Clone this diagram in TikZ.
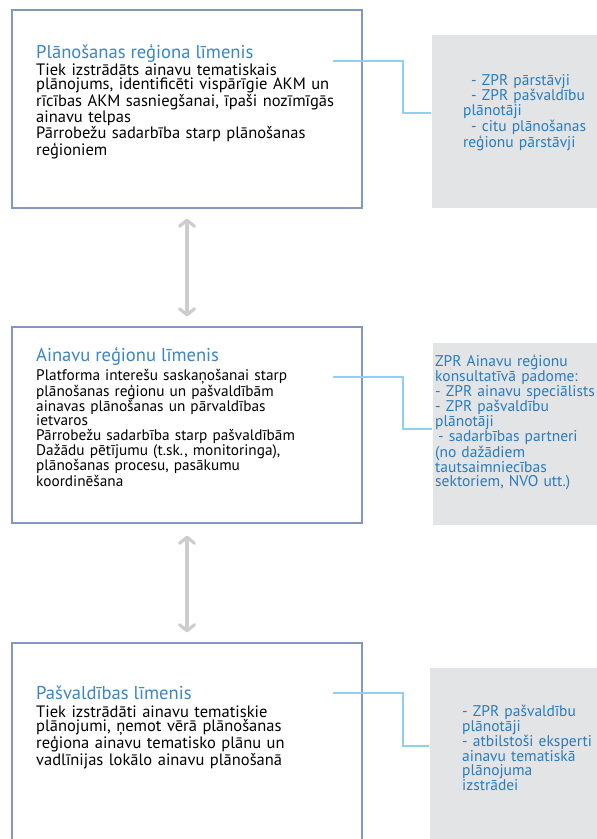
\documentclass[tikz,border=0pt]{standalone}
\usepackage{fontspec}
\setmainfont{PT Sans}
\usetikzlibrary{arrows.meta}
\definecolor{boxline}{HTML}{8497C0}
\definecolor{titleblue}{HTML}{3A86C6}
\definecolor{graybg}{HTML}{E2E4E6}
\definecolor{graytext}{HTML}{2A7BBF}
\definecolor{conn}{HTML}{8FD0EE}
\definecolor{arrowgray}{HTML}{CDCDCD}
\lineskiplimit=-30pt
\tikzset{
  x=1pt, y=-1pt,
  levelbox/.style={draw=boxline, line width=1.3pt, fill=white, inner sep=0pt},
  graybox/.style={fill=graybg, inner sep=0pt},
  titletext/.style={anchor=base west, inner sep=0pt, text=titleblue,
    font=\fontsize{18.6}{18}\selectfont},
  maintext/.style={anchor=base west, inner sep=0pt, align=left, text=black, text width=330pt,
    font=\fontsize{16.5}{14.5}\selectfont},
  sidetext/.style={anchor=base west, inner sep=0pt, align=left, text=graytext, text width=170pt,
    font=\fontsize{15.5}{13.6}\selectfont},
  connector/.style={draw=conn, line width=2.8pt},
  updown/.style={draw=arrowgray, line width=3.2pt,
    {Straight Barb[length=6pt,width=15pt,round]}-{Straight Barb[length=6pt,width=15pt,round]}}
}
\begin{document}
\lineskiplimit=-30pt
\begin{tikzpicture}
\useasboundingbox (0,0) rectangle (597,839);
% gray side boxes
\path[graybox] (432,35) rectangle (600,208);
\node[inner sep=0pt] (g1) at (432,121) {};
\path[graybox] (433,343) rectangle (600,525);
\node[inner sep=0pt] (g2) at (433,434) {};
\path[graybox] (430,668) rectangle (600,845);
\node[inner sep=0pt] (g3) at (430,756) {};
% level boxes
\node[levelbox, minimum width=350pt, minimum height=198pt] (b1) at (187,109) {};
\node[levelbox, minimum width=350pt, minimum height=196pt] (b2) at (187,425) {};
\node[levelbox, minimum width=350pt, minimum height=210pt] (b3) at (187,748) {};
% connectors
\coordinate (c1) at (333,61);
\coordinate (k1) at (403,113);
\coordinate (c2) at (333,377);
\coordinate (k2) at (403,429);
\coordinate (c3) at (333,693);
\coordinate (k3) at (403,746);
\draw[connector] (c1) -| (k1) -- (k1 -| g1.west);
\draw[connector] (c2) -| (k2) -- (k2 -| g2.west);
\draw[connector] (c3) -| (k3) -- (k3 -| g3.west);
% up-down arrows
\draw[updown, shorten <=10pt, shorten >=10pt] (b1.south) -- (b2.north);
\draw[updown, shorten <=12pt, shorten >=10pt] (b2.south) -- (b3.north);
% texts
\node[titletext] (h1) at (36,58) {Plānošanas reģiona līmenis};
\node[maintext] (t1) at (36,75) {Tiek izstrādāts ainavu tematiskais\\
plānojums, identificēti vispārīgie AKM un\\
rīcības AKM sasniegšanai, īpaši nozīmīgās\\
ainavu telpas\\
Pārrobežu sadarbība starp plānošanas\\
reģioniem};
\node[titletext] (h2) at (36,361) {Ainavu reģionu līmenis};
\node[maintext, font=\fontsize{15.3}{14.15}\selectfont] (t2) at (36,380) {Platforma interešu saskaņošanai starp\\
plānošanas reģionu un pašvaldībām\\
ainavas plānošanas un pārvaldības\\
ietvaros\\
Pārrobežu sadarbība starp pašvaldībām\\
Dažādu pētījumu (t.sk., monitoringa),\\
plānošanas procesu, pasākumu\\
koordinēšana};
\node[titletext] (h3) at (36,699) {Pašvaldības līmenis};
\node[maintext] (t3) at (36,717) {Tiek izstrādāti ainavu tematiskie\\
plānojumi, ņemot vērā plānošanas\\
reģiona ainavu tematisko plānu un\\
vadlīnijas lokālo ainavu plānošanā};
\node[sidetext] (s1) at (463,85) {\hspace*{8pt}- ZPR pārstāvji\\
\hspace*{8pt}- ZPR pašvaldību\\
plānotāji\\
\hspace*{8pt}- citu plānošanas\\
reģionu pārstāvji};
\node[sidetext] (s2) at (435,366) {ZPR Ainavu reģionu\\
konsultatīvā padome:\\
- ZPR ainavu speciālists\\
- ZPR pašvaldību\\
plānotāji\\
\hspace*{3pt}- sadarbības partneri\\
(no dažādiem\\
tautsaimniecības\\
sektoriem, NVO utt.)};
\node[sidetext] (s3) at (462,716) {- ZPR pašvaldību\\
plānotāji\\
- atbilstoši eksperti\\
ainavu tematiskā\\
plānojuma\\
izstrādei};
\end{tikzpicture}
\end{document}
